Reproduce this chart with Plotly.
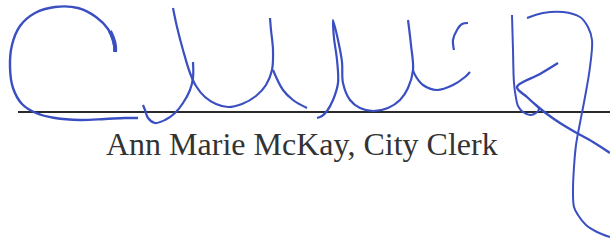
import plotly.graph_objects as go

# Signature strokes (x, y in picture units, y downward)
stroke_c_x = [115, 113, 108, 96, 78, 55, 35, 20, 12, 10, 13, 22, 36, 55, 80, 105, 125, 138]
stroke_c_y = [52, 40, 29, 17, 8, 7, 13, 26, 45, 67, 88, 104, 113, 118, 120, 119, 118, 118]

stroke_c_tip_x = [110, 113, 115, 115]
stroke_c_tip_y = [31, 38, 46, 52]

stroke_u1a_x = [143, 145, 148, 155, 165, 175, 183, 190, 193, 193]
stroke_u1a_y = [105, 110, 118, 123, 120, 113, 103, 90, 78, 62]

stroke_u1b_x = [173, 177, 183, 190, 196, 205, 216, 228, 242, 256, 266, 272, 273, 271, 270]
stroke_u1b_y = [8, 27, 50, 73, 86, 97, 104, 107, 104, 96, 85, 70, 50, 30, 18]

stroke_u1c_x = [273, 283, 293, 307]
stroke_u1c_y = [70, 90, 100, 108]

stroke_u2_x = [317, 322, 327, 333, 338, 337, 334, 333, 338, 342, 343, 350, 360, 373, 388, 400, 408, 413, 411, 408]
stroke_u2_y = [118, 116, 111, 100, 83, 60, 38, 20, 40, 62, 83, 100, 108, 111, 108, 100, 88, 70, 45, 20]

stroke_u3_x = [413, 415, 423, 437, 453, 465, 470]
stroke_u3_y = [70, 75, 85, 90, 85, 77, 72]

stroke_c2_x = [468, 462, 457, 453, 454]
stroke_c2_y = [23, 24, 30, 40, 50]

stroke_k1_x = [512, 513, 514, 516, 518, 523, 530, 536, 539, 536]
stroke_k1_y = [15, 50, 83, 98, 106, 112, 115, 113, 109, 105]

stroke_k2_x = [558, 540, 517, 527, 537, 547, 560, 575, 593, 610]
stroke_k2_y = [63, 74, 87, 97, 106, 114, 123, 132, 142, 153]

stroke_z_x = [527, 543, 563, 580, 588, 592, 590, 585, 580, 576, 574, 573, 574, 578, 586, 597, 610]
stroke_z_y = [18, 13, 12, 17, 27, 40, 67, 97, 123, 145, 167, 190, 207, 215, 225, 232, 237]

rule_x = [18, 610]
rule_y = [112, 112]

caption = "Ann Marie McKay, City Clerk"

blue = "#3a4fc2"
strokes = [
    (stroke_c_x, stroke_c_y, 2.4),
    (stroke_c_tip_x, stroke_c_tip_y, 4.0),
    (stroke_u1a_x, stroke_u1a_y, 2.2),
    (stroke_u1b_x, stroke_u1b_y, 2.2),
    (stroke_u1c_x, stroke_u1c_y, 2.2),
    (stroke_u2_x, stroke_u2_y, 2.2),
    (stroke_u3_x, stroke_u3_y, 2.2),
    (stroke_c2_x, stroke_c2_y, 2.2),
    (stroke_k1_x, stroke_k1_y, 2.0),
    (stroke_k2_x, stroke_k2_y, 2.4),
    (stroke_z_x, stroke_z_y, 2.0),
]

fig = go.Figure()
fig.add_trace(go.Scatter(x=rule_x, y=rule_y, mode="lines",
                         line=dict(color="#2b2b2b", width=2), hoverinfo="skip"))
for sx, sy, w in strokes:
    fig.add_trace(go.Scatter(x=sx, y=sy, mode="lines",
                             line=dict(color=blue, width=w, shape="spline", smoothing=1.0),
                             hoverinfo="skip"))

fig.add_annotation(x=302, y=144, text=caption, showarrow=False,
                   xanchor="center", yanchor="middle",
                   font=dict(family="Liberation Serif, Times New Roman, serif", size=32, color="#333333"))

fig.update_layout(
    width=610, height=241,
    margin=dict(l=0, r=0, t=0, b=0),
    paper_bgcolor="white", plot_bgcolor="white",
    showlegend=False,
    xaxis=dict(range=[0, 610], visible=False, fixedrange=True),
    yaxis=dict(range=[241, 0], visible=False, fixedrange=True),
)

fig.write_html("out.html", config={"displayModeBar": False},
               post_script="document.body.style.margin='0';document.body.style.overflow='hidden';")
